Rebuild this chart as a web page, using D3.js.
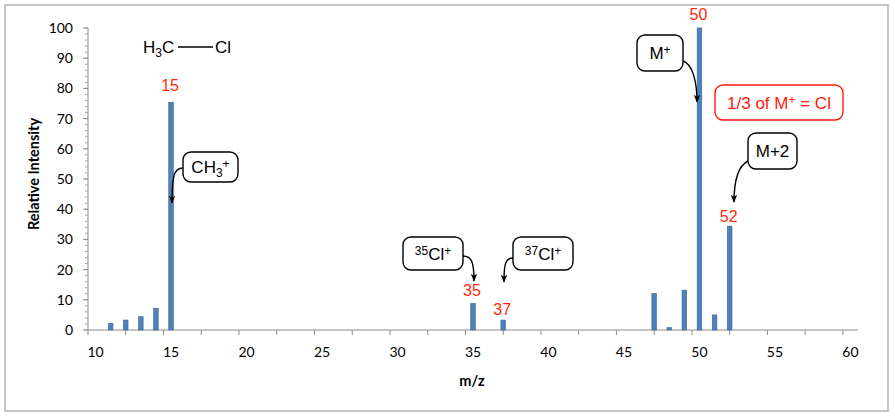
<!DOCTYPE html>
<html>
<head>
<meta charset="utf-8">
<script src="https://cdn.jsdelivr.net/npm/d3@7"></script>
<style>
  body { margin: 0; background: #fff; }
  svg { display: block; }
  .tick-label { font-family: Lato, "Open Sans", sans-serif; font-size: 14px; fill: #000; }
  .axis-title { font-family: Lato, "Open Sans", sans-serif; font-size: 14.5px; font-weight: bold; }
  .note { font-family: "Liberation Sans", Arial, sans-serif; font-size: 16px; }
</style>
</head>
<body>
<div id="chart"></div>
<script>
// m/z values and their relative intensities
var mz =        [11,  12,  13,  14,  15,   35,  37,  47,   48,  49,   50,  51,  52];
var intensity = [2.2, 3.3, 4.4, 7.2, 75.4, 8.8, 3.3, 12.1, 0.8, 13.2, 100, 5.0, 34.4];

// tick labels
var xTickLabels = [10, 15, 20, 25, 30, 35, 40, 45, 50, 55, 60];
var yTickLabels = [0, 10, 20, 30, 40, 50, 60, 70, 80, 90, 100];

// peaks that get a red m/z label
var labelledPeaks = [15, 35, 37, 50, 52];

var width = 895, height = 418;

var svg = d3.select('#chart').append('svg')
    .attr('width', width)
    .attr('height', height);

// outer chart frame
svg.append('rect')
    .attr('x', 5).attr('y', 5)
    .attr('width', 883).attr('height', 406)
    .attr('fill', 'none')
    .attr('stroke', '#b3b3b3')
    .attr('stroke-width', 1.5);

// category style axis: each m/z is a slot one unit wide
var x = d3.scaleLinear().domain([9.5, 60.5]).range([88, 858]);
var y = d3.scaleLinear().domain([0, 100]).range([330, 28]);

var axisColor = '#8c8c8c';

// y axis line + ticks (major every 10, minor every 2)
svg.append('line')
    .attr('x1', x(9.5)).attr('x2', x(9.5))
    .attr('y1', y(0)).attr('y2', y(100))
    .attr('stroke', axisColor);

svg.selectAll('.ymin')
    .data(d3.range(0, 101, 2))
    .enter().append('line')
    .attr('x1', x(9.5) - 3).attr('x2', x(9.5))
    .attr('y1', function(d) { return y(d); })
    .attr('y2', function(d) { return y(d); })
    .attr('stroke', '#a6a6a6');

svg.selectAll('.ymaj')
    .data(yTickLabels)
    .enter().append('line')
    .attr('x1', x(9.5) - 5).attr('x2', x(9.5))
    .attr('y1', function(d) { return y(d); })
    .attr('y2', function(d) { return y(d); })
    .attr('stroke', axisColor);

svg.selectAll('.ylab')
    .data(yTickLabels)
    .enter().append('text')
    .attr('class', 'tick-label')
    .attr('x', 73)
    .attr('y', function(d) { return y(d) + 5; })
    .attr('text-anchor', 'end')
    .text(function(d) { return d; });

// x axis line + ticks every 2.5 slots
svg.append('line')
    .attr('x1', x(9.5)).attr('x2', x(60.5))
    .attr('y1', y(0)).attr('y2', y(0))
    .attr('stroke', axisColor);

svg.selectAll('.xtick')
    .data(d3.range(9.5, 60, 2.5))
    .enter().append('line')
    .attr('x1', function(d) { return x(d); })
    .attr('x2', function(d) { return x(d); })
    .attr('y1', y(0)).attr('y2', y(0) + 5)
    .attr('stroke', axisColor);

svg.selectAll('.xlab')
    .data(xTickLabels)
    .enter().append('text')
    .attr('class', 'tick-label')
    .attr('x', function(d) { return x(d); })
    .attr('y', 357)
    .attr('text-anchor', 'middle')
    .text(function(d) { return d; });

// axis titles
svg.append('text')
    .attr('class', 'axis-title')
    .attr('x', 472).attr('y', 386)
    .attr('text-anchor', 'middle')
    .text('m/z');

svg.append('text')
    .attr('class', 'axis-title')
    .attr('transform', 'translate(39,174) rotate(-90)')
    .attr('text-anchor', 'middle')
    .text('Relative Intensity');

// the peaks
var peaks = mz.map(function(m, i) { return {mz: m, v: intensity[i]}; });

svg.selectAll('.bar')
    .data(peaks)
    .enter().append('rect')
    .attr('x', function(d) { return x(d.mz) - 2.3; })
    .attr('y', function(d) { return y(d.v); })
    .attr('width', 4.6)
    .attr('height', function(d) { return y(0) - y(d.v); })
    .attr('fill', '#4f81bd')
    .attr('stroke', '#3a6294')
    .attr('stroke-width', 0.6);

// red m/z labels above the named peaks
var labelGap = {15: 11, 35: 7, 37: 5, 50: 8, 52: 4};
svg.selectAll('.peaklab')
    .data(peaks.filter(function(d) { return labelledPeaks.indexOf(d.mz) >= 0; }))
    .enter().append('text')
    .attr('class', 'note')
    .attr('x', function(d) { return x(d.mz) - 1; })
    .attr('y', function(d) { return y(d.v) - labelGap[d.mz]; })
    .attr('text-anchor', 'middle')
    .attr('fill', '#ff2a0a')
    .text(function(d) { return d.mz; });

// structure H3C—Cl
var mol = svg.append('text').attr('class', 'note').attr('x', 143).attr('y', 53).style('font-size', '17px');
mol.append('tspan').text('H');
mol.append('tspan').attr('dy', 4).style('font-size', '12px').text('3');
mol.append('tspan').attr('dy', -4).text('C');
svg.append('line').attr('x1', 178).attr('x2', 213).attr('y1', 47).attr('y2', 47)
    .attr('stroke', '#000').attr('stroke-width', 1.3);
svg.append('text').attr('class', 'note').attr('x', 215).attr('y', 53).style('font-size', '17px').text('Cl');

// arrowhead
svg.append('defs').append('marker')
    .attr('id', 'head')
    .attr('viewBox', '0 0 10 10')
    .attr('refX', 9).attr('refY', 5)
    .attr('markerWidth', 8).attr('markerHeight', 10)
    .attr('orient', 'auto')
    .attr('markerUnits', 'userSpaceOnUse')
    .append('path').attr('d', 'M0,1 L10,5 L0,9 L2.5,5 z').attr('fill', '#000');

// callout boxes and their text pieces (sup / sub)
function callout(bx, by, bw, bh, parts, color) {
    color = color || '#000';
    svg.append('rect')
        .attr('x', bx).attr('y', by).attr('width', bw).attr('height', bh)
        .attr('rx', 8).attr('ry', 8)
        .attr('fill', '#fff')
        .attr('stroke', color)
        .attr('stroke-width', 1.4);
    var t = svg.append('text').attr('class', 'note')
        .attr('x', bx + bw / 2).attr('y', by + bh / 2 + 6)
        .attr('text-anchor', 'middle')
        .attr('fill', color)
        .style('font-size', '17px');
    parts.forEach(function(p) {
        var s = t.append('tspan').text(p.t);
        if (p.sup) s.attr('dy', -5).style('font-size', '12px');
        else if (p.sub) s.attr('dy', 4).style('font-size', '12px');
        if (p.back) s.attr('dy', p.back);
    });
}

function arrow(d) {
    svg.append('path')
        .attr('d', d)
        .attr('fill', 'none')
        .attr('stroke', '#000')
        .attr('stroke-width', 1.4)
        .attr('marker-end', 'url(#head)');
}

callout(183, 152, 55, 30, [{t: 'CH'}, {t: '3', sub: true}, {t: '+', sup: true, back: -9}]);
arrow('M183,168 C174,168 172,176 172,203');

callout(403, 237, 60, 33, [{t: '35', sup: true}, {t: 'Cl', back: 5}, {t: '+', sup: true}]);
arrow('M463,256 C472,256 474,263 474,281');

callout(513, 237, 60, 33, [{t: '37', sup: true}, {t: 'Cl', back: 5}, {t: '+', sup: true}]);
arrow('M513,258 C505,258 504,265 504,282');

callout(637, 35, 46, 36, [{t: 'M'}, {t: '+', sup: true}]);
arrow('M683,61 C692,64 697,80 697,102');

callout(715, 85, 128, 35, [{t: '1/3 of M'}, {t: '+', sup: true}, {t: ' = Cl', back: 5}], '#ff1a0a');

callout(748, 133, 49, 36, [{t: 'M+2'}]);
arrow('M748,161 C738,166 734,180 734,202');
</script>
</body>
</html>
